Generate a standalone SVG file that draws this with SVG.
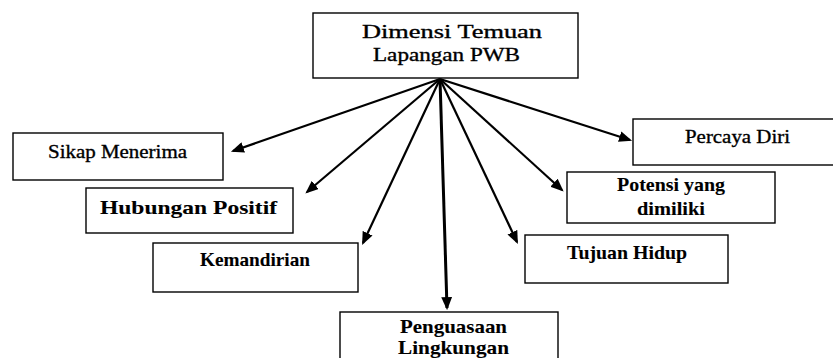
<svg xmlns="http://www.w3.org/2000/svg" width="833" height="358" viewBox="0 0 833 358">
<style>
.box{fill:#fff;stroke:#000;stroke-width:1.4}
.t{font-family:"Liberation Serif","Times New Roman",serif;font-size:19px;fill:#000;stroke:#000;stroke-width:0.35;text-anchor:start}
.b{font-weight:bold;stroke-width:0.1}
.c{stroke:#000;stroke-width:2.2;fill:none;marker-end:url(#ah)}
</style>
<defs>
<marker id="ah" viewBox="0 0 12 10" refX="10" refY="5" markerWidth="13" markerHeight="11" markerUnits="userSpaceOnUse" orient="auto">
<path d="M0,0 L12,5 L0,10 z" fill="#000"/>
</marker>
</defs>
<rect width="833" height="358" fill="#fff"/>
<g id="connectors">
<line class="c" x1="440" y1="79" x2="233" y2="151"/>
<line class="c" x1="440" y1="79" x2="307" y2="192"/>
<line class="c" x1="440" y1="79" x2="363" y2="243"/>
<line class="c" x1="440" y1="79" x2="447" y2="308" style="stroke-width:3"/>
<line class="c" x1="440" y1="79" x2="517" y2="242"/>
<line class="c" x1="440" y1="79" x2="562" y2="190"/>
<line class="c" x1="440" y1="79" x2="630" y2="140"/>
</g>
<g id="root">
<rect class="box" x="313" y="13" width="265" height="65"/>
<text class="t" x="362" y="38" textLength="180" lengthAdjust="spacingAndGlyphs">Dimensi  Temuan</text>
<text class="t" x="373" y="61" textLength="147" lengthAdjust="spacingAndGlyphs">Lapangan PWB</text>
</g>
<g id="sikap">
<rect class="box" x="13" y="133" width="210" height="47"/>
<text class="t" x="48" y="158" textLength="139" lengthAdjust="spacingAndGlyphs">Sikap Menerima</text>
</g>
<g id="hubungan">
<rect class="box" x="86" y="188" width="207" height="45"/>
<text class="t b" x="100" y="214" textLength="177" lengthAdjust="spacingAndGlyphs">Hubungan Positif</text>
</g>
<g id="kemandirian">
<rect class="box" x="153" y="243" width="205" height="49"/>
<text class="t b" x="200" y="266" textLength="110" lengthAdjust="spacingAndGlyphs">Kemandirian</text>
</g>
<g id="penguasaan">
<rect class="box" x="340" y="312" width="218" height="60"/>
<text class="t b" x="400" y="333" textLength="107" lengthAdjust="spacingAndGlyphs">Penguasaan</text>
<text class="t b" x="398" y="354" textLength="111" lengthAdjust="spacingAndGlyphs">Lingkungan</text>
</g>
<g id="tujuan">
<rect class="box" x="525" y="235" width="203" height="48"/>
<text class="t b" x="567" y="259" textLength="120" lengthAdjust="spacingAndGlyphs">Tujuan Hidup</text>
</g>
<g id="potensi">
<rect class="box" x="567" y="172" width="208" height="51"/>
<text class="t b" x="617" y="191" textLength="108" lengthAdjust="spacingAndGlyphs">Potensi yang</text>
<text class="t b" x="637" y="215" textLength="68" lengthAdjust="spacingAndGlyphs">dimiliki</text>
</g>
<g id="percaya">
<rect class="box" x="633" y="119" width="210" height="46"/>
<text class="t" x="685" y="143" textLength="105" lengthAdjust="spacingAndGlyphs">Percaya Diri</text>
</g>
</svg>
